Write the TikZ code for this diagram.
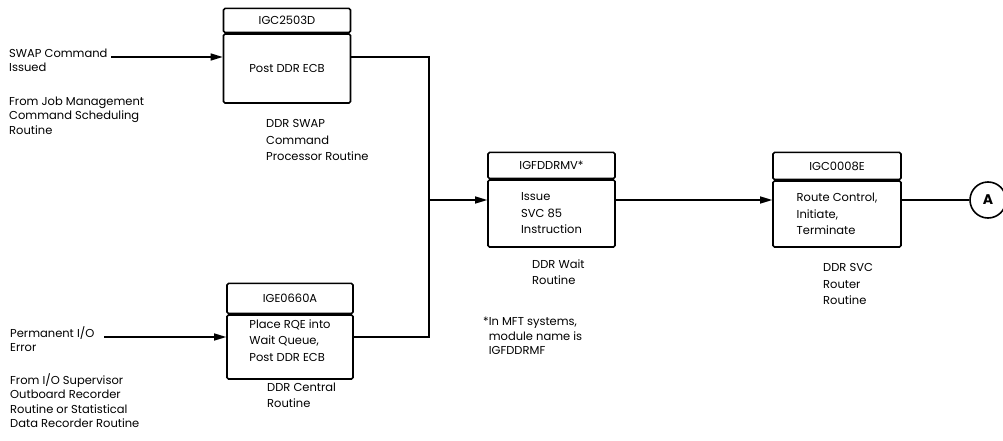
\documentclass[tikz,border=0pt]{standalone}
\usepackage{fontspec}
\setmainfont{Poppins}
\usetikzlibrary{arrows.meta,positioning}
\tikzset{
  >={Triangle[length=12pt,width=7pt]},
  body/.style={draw,line width=1.6pt,rounded corners=1.5pt,minimum width=127pt,inner sep=2pt,align=left,font=\fontsize{11.5}{16.5}\selectfont},
  head/.style={draw,line width=1.6pt,rounded corners=1.5pt,minimum width=127pt,inner sep=0pt,font=\fontsize{11.5}{14}\selectfont},
  lab/.style={anchor=north west,inner sep=0pt,align=left,font=\fontsize{11.5}{14.5}\selectfont},
  sublab/.style={lab,font=\fontsize{11.5}{16.5}\selectfont},
  arr/.style={->,line width=1.3pt},
  wire/.style={line width=1.3pt},
}
\begin{document}
\begin{tikzpicture}[x=1pt,y=1pt]
\useasboundingbox (0,0) rectangle (1003,440);
\fill[white] (0,0) rectangle (1003,440);
% modules
\node[body,minimum height=69pt,align=center] (b1) at (287,371.5) {Post DDR ECB};
\node[head,minimum height=24pt,above=0pt of b1] (h1) {IGC2503D};
\node[body,minimum height=64pt,minimum width=126pt,text depth=13pt] (b2) at (290,93) {Place RQE into\\Wait Queue,\\Post DDR ECB};
\node[head,minimum height=30pt,minimum width=126pt,above=0pt of b2] (h2) {IGE0660A};
\node[body,minimum height=67pt] (b3) at (551.5,226.5) {Issue\\SVC 85\\Instruction};
\node[head,minimum height=26pt,above=0pt of b3] (h3) {IGFDDRMV*};
\node[body,minimum height=66pt,minimum width=128pt] (b4) at (837,226) {Route Control,\\Initiate,\\Terminate};
\node[head,minimum height=27pt,minimum width=128pt,above=0pt of b4] (h4) {IGC0008E};
\node[circle,draw,line width=1.6pt,minimum size=36pt,inner sep=0pt,font=\fontsize{14}{14}\selectfont\bfseries] (A) at (988,240) {A};
% texts
\node[lab] (src1) at (9,391.4) {SWAP Command\\Issued};
\node[lab] (from1) at (9,343.7) {From Job Management\\Command Scheduling\\Routine};
\node[lab] (src2) at (10,113.7) {Permanent I/O\\Error};
\node[lab] (from2) at (10,66.7) {From I/O Supervisor\\Outboard Recorder\\Routine or Statistical\\Data Recorder Routine};
\node[sublab] (n1) at (266,320.7) {DDR SWAP\\Command\\Processor Routine};
\node[sublab] (n2) at (267,57.7) {DDR Central\\Routine};
\node[sublab] (n3) at (532,180.7) {DDR Wait\\Routine};
\node[lab] (note) at (483,122.7) {*In MFT systems,\\\hphantom{*}module name is\\\hphantom{*}IGFDDRMF};
\node[sublab] (n4) at (823,176.7) {DDR SVC\\Router\\Routine};
% flow
\coordinate (in1) at (111,383);
\coordinate (in2) at (104,103);
\coordinate (j) at (429,240);
\draw[arr] (in1) -- (in1 -| b1.west);
\draw[arr] (in2) -- (in2 -| b2.west);
\draw[wire] (in1 -| b1.east) -| (j);
\draw[wire] (in2 -| b2.east) -| (j);
\draw[arr] (j) -- (j -| b3.west);
\draw[arr] (j -| b3.east) -- (j -| b4.west);
\draw[wire] (j -| b4.east) -- (A);
\end{tikzpicture}
\end{document}
